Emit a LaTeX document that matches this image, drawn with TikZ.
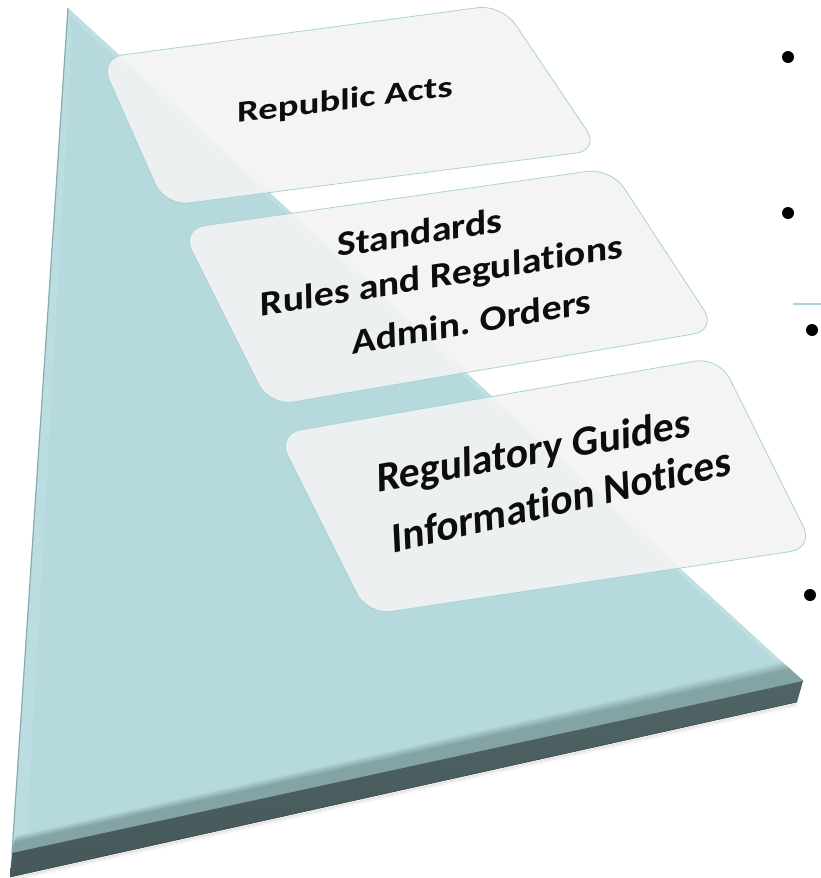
\documentclass[tikz,border=0pt]{standalone}
\usepackage{fontspec}
\setmainfont{Carlito}[Ligatures=NoCommon]
\usetikzlibrary{calc}
\definecolor{teal0}{HTML}{B5D9DD}
\definecolor{tealhi}{HTML}{C9E6E9}
\definecolor{tealedge}{HTML}{86ACB0}
\definecolor{bevel}{HTML}{84A3A5}
\definecolor{front}{HTML}{506465}
\definecolor{frontdk}{HTML}{465859}
\definecolor{boxfill}{HTML}{F3F3F3}
\definecolor{boxline}{HTML}{A9D2D7}
\definecolor{ruleline}{HTML}{A9D4D9}
\frenchspacing
\tikzset{
  strip/.style={fill=#1, draw=#1, line width=0.6pt},
  card/.style={fill=boxfill, fill opacity=0.9, draw=boxline, line width=0.8pt, rounded corners=24pt},
  lbl/.style={anchor=base, inner sep=0pt, text=black!95, font=\bfseries},
  dot/.style={circle, fill=black, inner sep=0pt, minimum size=12pt},
  rule/.style={draw=ruleline, line width=1.6pt}
}
\begin{document}
\begin{tikzpicture}[x=1pt,y=-1pt]
\useasboundingbox (0,0) rectangle (821,878);
% slab geometry
\coordinate (A) at (68,8);
\coordinate (B) at (12,853);
\coordinate (C) at (803,681);
\coordinate (D) at (797,702);
\coordinate (E) at (10,877);
\coordinate (B1) at (16,836);
\coordinate (C1) at (782,662);
% shadow
\foreach \k/\o in {1/0.10,2/0.07,3/0.05,4/0.03}{
  \fill[black, opacity=\o] ($(E)+(0,\k)$) -- ($(D)+(0,\k)$) -- ($(D)+(0,\k+1)$) -- ($(E)+(0,\k+1)$) -- cycle;
}
% top face
\fill[teal0] (A) -- (B) -- (C) -- cycle;
% left edge highlight
\fill[tealhi, opacity=0.35] (A) -- (B) -- ($(B)+(14,-6)$) -- ($(A)+(4,30)$) -- cycle;
% top-right edge highlight
\fill[tealhi, opacity=0.5] (A) -- (C) -- ($(C)+(-8,-2)$) -- ($(A)+(2,8)$) -- cycle;
% bevel along bottom edge
\foreach \k in {0,...,11}{
  \pgfmathsetmacro{\ta}{\k/12}
  \pgfmathsetmacro{\tb}{(\k+1)/12}
  \pgfmathtruncatemacro{\p}{min(100,250*(\k+0.5)/12)}
  \filldraw[strip=bevel!\p!teal0] ($(B1)!\ta!(B)$) -- ($(C1)!\ta!(C)$) -- ($(C1)!\tb!(C)$) -- ($(B1)!\tb!(B)$) -- cycle;
}
% front face
\shade[top color=front, bottom color=frontdk] (B) -- (C) -- (D) -- (E) -- cycle;
\draw[frontdk!80!black, line width=0.6pt] (E) -- (D);
% left edge line
\draw[tealedge, line width=1.2pt] (A) -- (B);
% cards
\draw[card] (99.5,58) -- (502,4.5) -- (600,150) -- (165,206) -- cycle;
\draw[card] (181,229) -- (611,168) -- (717,330) -- (269.5,406) -- cycle;
\draw[card] (277,434) -- (719,357) -- (814,548) -- (367.5,615) -- cycle;
% labels
\node[lbl, rotate=7, xslant=0.12, xscale=1.3, font=\fontsize{30}{34}\selectfont\bfseries] (ra) at (345,109.5) {Republic Acts};
\node[lbl, rotate=8.6, xslant=0.14, xscale=1.15, font=\fontsize{35}{40}\selectfont\bfseries] (st) at (420,244.5) {Standards};
\node[lbl, rotate=9.2, xslant=0.14, xscale=1.15, font=\fontsize{35}{40}\selectfont\bfseries] (rr) at (442,287) {Rules and Regulations};
\node[lbl, rotate=9.9, xslant=0.14, xscale=1.15, font=\fontsize{35}{40}\selectfont\bfseries] (ao) at (472,334) {Admin. Orders};
\node[lbl, rotate=10, xslant=0.16, xscale=1.0, font=\fontsize{42}{48}\selectfont\bfseries] (rg) at (534,464.5) {Regulatory Guides};
\node[lbl, rotate=13, xslant=0.18, xscale=1.0, font=\fontsize{42}{48}\selectfont\bfseries] (in) at (562,514) {Information Notices};
% bullets
\node[dot] (b1) at (788,57) {};
\node[dot] (b2) at (788,213) {};
\node[dot] (b3) at (812,330) {};
\node[dot] (b4) at (810,595) {};
\coordinate (r1a) at (793,304);
\coordinate (r1b) at (821,304);
\draw[rule] (r1a) -- (r1b);
\end{tikzpicture}
\end{document}
